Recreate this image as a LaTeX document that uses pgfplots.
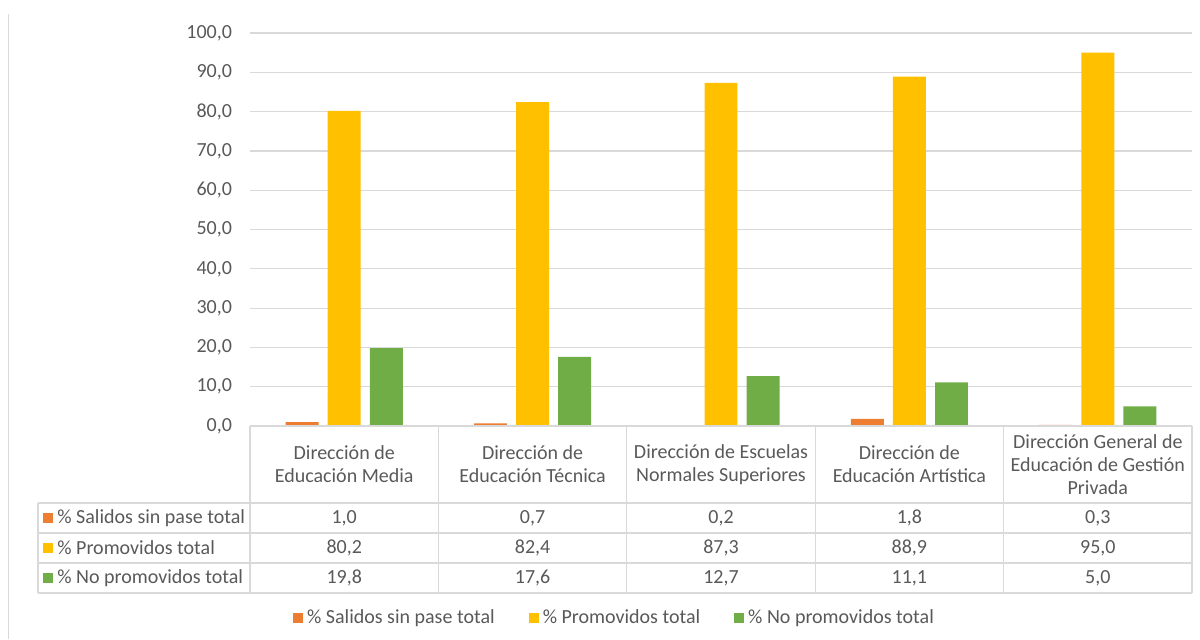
\documentclass[border=0pt]{standalone}
\usepackage{pgfplots}
\pgfplotsset{compat=1.18}
\usepackage{fontspec}
\setmainfont{Carlito}
\definecolor{cOrange}{HTML}{ED7D31}
\definecolor{cYellow}{HTML}{FFC000}
\definecolor{cGreen}{HTML}{70AD47}
\definecolor{cGrid}{HTML}{D9D9D9}
\definecolor{cText}{HTML}{595959}
\begin{document}
\begin{tikzpicture}[font=\fontsize{10}{11.6}\selectfont, text=cText]
\begin{axis}[
  at={(125pt,-213pt)}, anchor=south west,
  scale only axis,
  width=471pt, height=196.5pt,
  xmin=-0.5, xmax=4.5, ymin=0, ymax=100,
  axis line style={draw=none},
  xtick=\empty,
  ytick={0,10,...,100},
  major tick length=0pt,
  ymajorgrids=true,
  grid style={cGrid, line width=0.6pt},
  yticklabel style={xshift=-5.5pt, text=cText,
    /pgf/number format/.cd, fixed, fixed zerofill, precision=1, use comma, assume math mode=true},
  ybar=0pt,
  bar width=0.175,
  clip=false,
  legend columns=3,
  legend style={at={(0.388,-0.4885)}, anchor=center, draw=none, fill=none,
    /tikz/every even column/.append style={column sep=15pt},
    font=\fontsize{10}{11.6}\selectfont, text=cText},
  legend image code/.code={\fill[#1] (0pt,-2.5pt) rectangle (5pt,2.5pt);},
]
\addplot[draw=none, fill=cOrange, bar shift=-0.2234] coordinates {(0,1.0) (1,0.7) (2,0.2) (3,1.8) (4,0.3)};
\addplot[draw=none, fill=cYellow, bar shift=0] coordinates {(0,80.2) (1,82.4) (2,87.3) (3,88.9) (4,95.0)};
\addplot[draw=none, fill=cGreen, bar shift=0.2234] coordinates {(0,19.8) (1,17.6) (2,12.7) (3,11.1) (4,5.0)};
\legend{\% Salidos sin pase total, \% Promovidos total, \% No promovidos total}
\end{axis}
% data table, drawn in pixel units of the reference
\begin{scope}[x=0.5pt, y=-0.5pt]
  \path (0,0) rectangle (1200,639);
  \draw[cGrid, line width=0.6pt] (8.5,14) -- (8.5,639);
  \draw[cGrid, line width=0.6pt] (250,426) -- (1192,426);
  \foreach \yy in {503,533,563,593}
    \draw[cGrid, line width=0.6pt] (38,\yy) -- (1192,\yy);
  \draw[cGrid, line width=0.6pt] (38,503) -- (38,593);
  \foreach \xx in {250,438.4,626.8,815.2,1003.6,1192}
    \draw[cGrid, line width=0.6pt] (\xx,426) -- (\xx,593);
  % headers
  \foreach \lab [count=\i from 0] in {
      {Dirección de\\Educación Media},
      {Dirección de\\Educación Técnica},
      {Dirección de Escuelas\\Normales Superiores},
      {Dirección de\\Educación Artística},
      {Dirección General de\\Educación de Gestión\\Privada}}
    \node[align=center, inner sep=0pt] at (344.2+188.4*\i,464.5) {\lab};
  % row labels
  \fill[cOrange] (43,513) rectangle (53,523);
  \node[anchor=west, inner sep=0pt] at (57,518) {\% Salidos sin pase total};
  \fill[cYellow] (43,543) rectangle (53,553);
  \node[anchor=west, inner sep=0pt] at (57,548) {\% Promovidos total};
  \fill[cGreen] (43,573) rectangle (53,583);
  \node[anchor=west, inner sep=0pt] at (57,578) {\% No promovidos total};
  % values
  \foreach \a/\b/\c [count=\i from 0] in {{1,0}/{80,2}/{19,8}, {0,7}/{82,4}/{17,6}, {0,2}/{87,3}/{12,7}, {1,8}/{88,9}/{11,1}, {0,3}/{95,0}/{5,0}} {
    \node[inner sep=0pt] at (344.2+188.4*\i,518) {\a};
    \node[inner sep=0pt] at (344.2+188.4*\i,548) {\b};
    \node[inner sep=0pt] at (344.2+188.4*\i,578) {\c};
  }
\end{scope}
\end{tikzpicture}
\end{document}
